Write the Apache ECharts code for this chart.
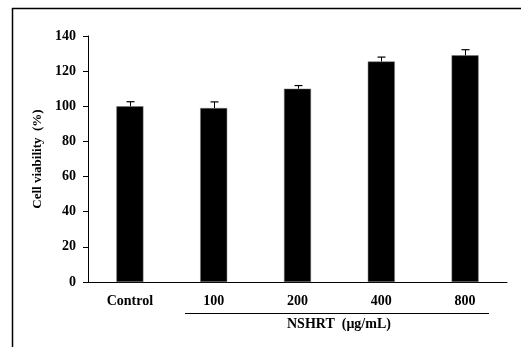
<!DOCTYPE html>
<html>
<head>
<meta charset="utf-8">
<script src="https://cdn.jsdelivr.net/npm/echarts@6/dist/echarts.min.js"></script>
<style>
  html, body { margin: 0; padding: 0; background: #fff; }
  #chart { width: 521px; height: 347px; }
</style>
</head>
<body>
<div id="chart"></div>
<script>
  // values
  const categories = ['Control', '100', '200', '400', '800'];
  const viability = [100, 99, 110, 125.5, 129];
  const errors = [2.6, 3.5, 1.8, 2.5, 3.2];
  const yTicks = [0, 20, 40, 60, 80, 100, 120, 140];

  const FONT = '"Liberation Serif", "Times New Roman", serif';

  const chart = echarts.init(document.getElementById('chart'), null, { renderer: 'canvas' });

  const errData = categories.map((c, i) => [i, viability[i], viability[i] + errors[i]]);

  chart.setOption({
    animation: false,
    backgroundColor: '#fff',
    grid: { left: 88, right: 14, top: 36, bottom: 65 },
    xAxis: {
      type: 'category',
      data: categories,
      axisLine: { lineStyle: { color: '#000', width: 1 } },
      axisTick: { show: false },
      axisLabel: {
        color: '#000', fontFamily: FONT, fontWeight: 'bold', fontSize: 14, margin: 12
      }
    },
    yAxis: {
      type: 'value',
      min: yTicks[0],
      max: yTicks[yTicks.length - 1],
      interval: 20,
      name: 'Cell viability  (%)',
      nameLocation: 'middle',
      nameRotate: 90,
      nameGap: 40,
      nameTextStyle: { color: '#000', fontFamily: FONT, fontWeight: 'bold', fontSize: 13 },
      axisLine: { show: true, lineStyle: { color: '#000', width: 1 } },
      axisTick: { show: true, length: 5, lineStyle: { color: '#000' } },
      splitLine: { show: false },
      axisLabel: {
        color: '#000', fontFamily: FONT, fontWeight: 'bold', fontSize: 14, margin: 12
      }
    },
    graphic: [
      // outer frame (left and top edges)
      { type: 'line', shape: { x1: 12.5, y1: 8, x2: 12.5, y2: 347 }, style: { stroke: '#000', lineWidth: 1.5 } },
      { type: 'line', shape: { x1: 12, y1: 8.5, x2: 521, y2: 8.5 }, style: { stroke: '#000', lineWidth: 1.5 } },
      // group line under the NSHRT doses
      { type: 'line', shape: { x1: 185, y1: 313.5, x2: 489, y2: 313.5 }, style: { stroke: '#000', lineWidth: 1 } },
      {
        type: 'text', left: 287, top: 317,
        style: { text: 'NSHRT  (\u03bcg/mL)', fill: '#000', font: 'bold 14px ' + FONT }
      }
    ],
    series: [
      {
        type: 'bar',
        data: viability,
        barWidth: 27,
        itemStyle: { color: '#000', borderColor: '#777', borderWidth: 0.5 }
      },
      {
        type: 'custom',
        data: errData,
        z: 10,
        renderItem: function (params, api) {
          const base = api.coord([api.value(0), api.value(1)]);
          const top = api.coord([api.value(0), api.value(2)]);
          const x = Math.round(base[0]) + 0.5;
          const half = 4;
          return {
            type: 'group',
            children: [
              { type: 'line', shape: { x1: x, y1: base[1], x2: x, y2: top[1] }, style: { stroke: '#000', lineWidth: 1 } },
              { type: 'line', shape: { x1: x - half, y1: top[1], x2: x + half, y2: top[1] }, style: { stroke: '#000', lineWidth: 1.2 } }
            ]
          };
        }
      }
    ]
  });
</script>
</body>
</html>
